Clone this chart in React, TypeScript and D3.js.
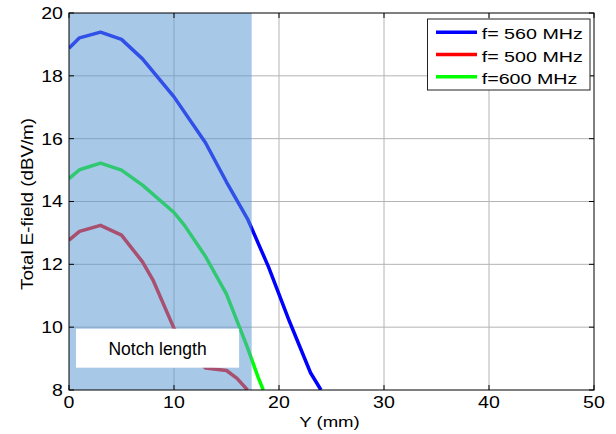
import React from "react";
import * as d3 from "d3";

// axis ticks
const xTicks = [0, 10, 20, 30, 40, 50];
const yTicks = [8, 10, 12, 14, 16, 18, 20];

// f = 560 MHz
const blueX = [0, 1, 3, 5, 7, 10, 13, 15, 17, 19, 21, 23, 24];
const blueY = [18.88, 19.21, 19.39, 19.16, 18.54, 17.33, 15.87, 14.62, 13.45, 11.92, 10.18, 8.55, 8.0];

// f = 500 MHz
const redX = [0, 1, 3, 5, 7, 8, 10, 12, 13, 15, 16, 17];
const redY = [12.77, 13.05, 13.24, 12.93, 12.08, 11.5, 9.96, 9.0, 8.7, 8.62, 8.37, 8.0];

// f = 600 MHz
const greenX = [0, 1, 3, 5, 7, 10, 11, 13, 15, 16, 17, 18, 18.5];
const greenY = [14.73, 15.01, 15.22, 15.0, 14.52, 13.65, 13.24, 12.25, 11.05, 10.2, 9.35, 8.42, 8.0];

const legendLabels = ["f= 560 MHz", "f= 500 MHz", "f=600 MHz"];
const seriesColors = ["#0000ff", "#ff0000", "#00ff00"];

// shaded notch region (mm) and its label box
const notchEnd = 17.4;
const notchLabel = "Notch length";
const notchBox = [0.67, 16.2, 8.71, 9.95];

const xLabel = "Y (mm)";
const yLabel = "Total E-field (dBV/m)";

const FONT = "'Liberation Sans', Arial, sans-serif";

export default function App() {
  const W = 616, H = 434;
  const left = 69, right = 594, top = 13, bottom = 390;

  const x = d3.scaleLinear().domain([0, 50]).range([left, right]);
  const y = d3.scaleLinear().domain([8, 20]).range([bottom, top]);

  const line = d3.line<[number, number]>()
    .x(d => x(d[0]))
    .y(d => y(d[1]));

  const series = [
    { xs: blueX, ys: blueY },
    { xs: redX, ys: redY },
    { xs: greenX, ys: greenY },
  ];

  const tickLen = 5;

  return (
    <svg width={W} height={H} style={{ position: "absolute", left: 0, top: 0, background: "#fff" }}
      fontFamily={FONT}>
      <defs>
        <clipPath id="plotClip">
          <rect x={left} y={top} width={right - left} height={bottom - top} />
        </clipPath>
      </defs>
      <rect x={left} y={top} width={right - left} height={bottom - top} fill="#fff" />

      {/* grid */}
      <g stroke="#b4b4b4" strokeWidth={1}>
        {xTicks.slice(1, -1).map(t => (
          <line key={"gx" + t} x1={x(t)} x2={x(t)} y1={top} y2={bottom} />
        ))}
        {yTicks.slice(1, -1).map(t => (
          <line key={"gy" + t} x1={left} x2={right} y1={y(t)} y2={y(t)} />
        ))}
      </g>

      {/* curves */}
      <g clipPath="url(#plotClip)" fill="none" strokeWidth={3.5} strokeLinejoin="round">
        {series.map((s, i) => (
          <path key={i} d={line(s.xs.map((v, j) => [v, s.ys[j]]) as [number, number][]) || ""}
            stroke={seriesColors[i]} />
        ))}
      </g>

      {/* translucent notch patch */}
      <rect x={x(0)} y={top} width={x(notchEnd) - x(0)} height={bottom - top}
        fill="rgb(90,151,211)" fillOpacity={0.53} />

      {/* notch label */}
      <rect x={x(notchBox[0])} y={y(notchBox[3])} width={x(notchBox[1]) - x(notchBox[0])}
        height={y(notchBox[2]) - y(notchBox[3])} fill="#fff" />
      <text x={(x(notchBox[0]) + x(notchBox[1])) / 2} y={355} textAnchor="middle"
        fontSize={17.5} fill="#000">{notchLabel}</text>

      {/* axes box and ticks */}
      <g stroke="#000" strokeWidth={1} fill="none">
        <rect x={left} y={top} width={right - left} height={bottom - top} />
        {xTicks.map(t => (
          <g key={"tx" + t}>
            <line x1={x(t)} x2={x(t)} y1={bottom} y2={bottom - tickLen} />
            <line x1={x(t)} x2={x(t)} y1={top} y2={top + tickLen} />
          </g>
        ))}
        {yTicks.map(t => (
          <g key={"ty" + t}>
            <line x1={left} x2={left + tickLen} y1={y(t)} y2={y(t)} />
            <line x1={right} x2={right - tickLen} y1={y(t)} y2={y(t)} />
          </g>
        ))}
      </g>

      {/* tick labels */}
      <g fontSize={16.3} fill="#000">
        {xTicks.map(t => (
          <text key={"lx" + t} transform={`translate(${x(t)},408.3) scale(1.2,1)`} textAnchor="middle">{t}</text>
        ))}
        {yTicks.map(t => (
          <text key={"ly" + t} transform={`translate(63,${y(t) + 5.9}) scale(1.2,1)`} textAnchor="end">{t}</text>
        ))}
      </g>

      {/* axis titles */}
      <text transform={`translate(${(left + right) / 2 - 2},426.5) scale(1.24,1)`} textAnchor="middle"
        fontSize={15} fill="#000">{xLabel}</text>
      <text transform={`translate(32.5,204) rotate(-90)`} textAnchor="middle" fontSize={17}
        textLength={172} lengthAdjust="spacingAndGlyphs" fill="#000">{yLabel}</text>

      {/* legend */}
      <g>
        <rect x={427.5} y={19} width={162.5} height={71} fill="#fff" stroke="#222" strokeWidth={1} />
        {legendLabels.map((lab, i) => (
          <g key={lab}>
            <line x1={436} x2={477} y1={32.3 + i * 22.2} y2={32.3 + i * 22.2}
              stroke={seriesColors[i]} strokeWidth={3.5} />
            <text transform={`translate(481.7,${39.3 + i * 22.2}) scale(1.27,1)`} fontSize={15.5}
              fill="#000">{lab}</text>
          </g>
        ))}
      </g>
    </svg>
  );
}
